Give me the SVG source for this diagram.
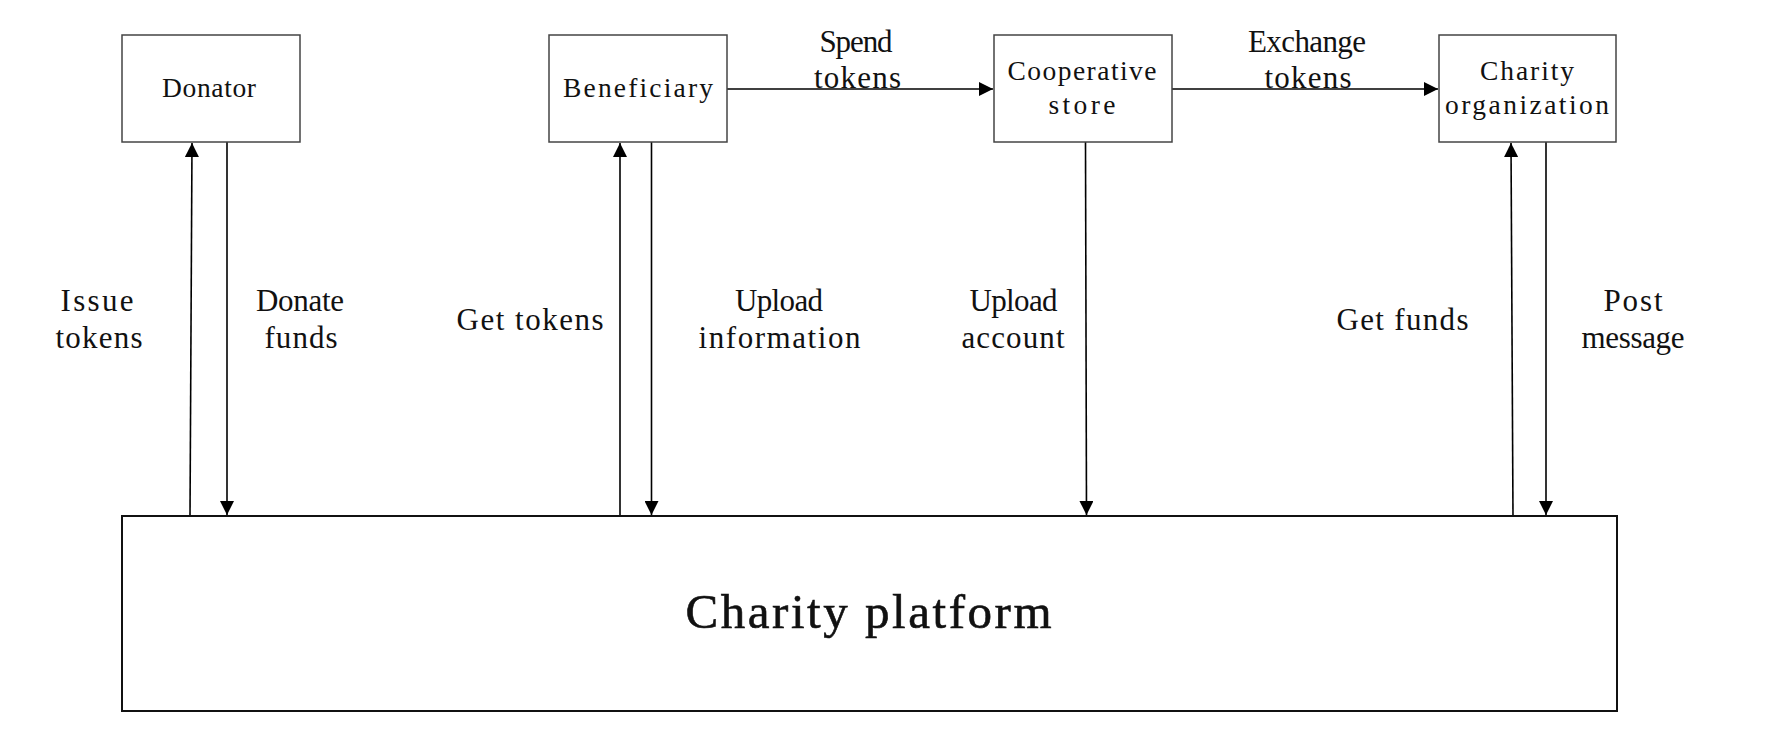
<svg xmlns="http://www.w3.org/2000/svg" width="1770" height="737" viewBox="0 0 1770 737">
<style>
text{font-family:"Liberation Serif","Times New Roman",serif;fill:#111;text-anchor:middle}
.box{fill:#fff;stroke:#444;stroke-width:1.5}
.plat{fill:#fff;stroke:#111;stroke-width:2}
.bl{font-size:27.5px}
.el{font-size:31px}
.pl{font-size:49px;stroke:#111;stroke-width:0.6}
.c{stroke:#000;stroke-width:1.6;fill:none;marker-end:url(#ah)}
</style>
<defs>
<marker id="ah" markerUnits="userSpaceOnUse" markerWidth="14" markerHeight="14" viewBox="0 0 12 12" refX="12" refY="6" orient="auto">
<path d="M0,0 L12,6 L0,12 Z" fill="#000"/>
</marker>
</defs>
<rect width="1770" height="737" fill="#fff"/>
<g id="connectors">
<path class="c" d="M190,516 L192,143"/>
<path class="c" d="M227,142 L227,515"/>
<path class="c" d="M620,516 L620,143"/>
<path class="c" d="M651.5,142 L651.5,515"/>
<path class="c" d="M1085.5,142 L1086.5,515"/>
<path class="c" d="M1513,516 L1511,143"/>
<path class="c" d="M1546,142 L1546,515"/>
<path class="c" d="M727,89 L993,89"/>
<path class="c" d="M1172,89 L1438,89"/>
</g>
<g id="labels">
<text class="el" x="97" y="311" textLength="73">Issue</text>
<text class="el" x="99" y="348" textLength="87">tokens</text>
<text class="el" x="300" y="311" textLength="88">Donate</text>
<text class="el" x="301" y="348" textLength="73">funds</text>
<text class="el" x="530" y="330" textLength="147">Get tokens</text>
<text class="el" x="779" y="311" textLength="88">Upload</text>
<text class="el" x="779.5" y="348" textLength="162">information</text>
<text class="el" x="1013.5" y="311" textLength="88">Upload</text>
<text class="el" x="1013" y="348" textLength="103">account</text>
<text class="el" x="1402.5" y="330" textLength="132">Get funds</text>
<text class="el" x="1633" y="311" textLength="59">Post</text>
<text class="el" x="1633" y="348" textLength="103">message</text>
<text class="el" x="856" y="52" textLength="73">Spend</text>
<text class="el" x="857.5" y="88" textLength="87">tokens</text>
<text class="el" x="1307" y="52" textLength="118">Exchange</text>
<text class="el" x="1308" y="88" textLength="87">tokens</text>
</g>
<g id="donator">
<rect class="box" x="122" y="35" width="178" height="107"/>
<text class="bl" x="209" y="97" textLength="94">Donator</text>
</g>
<g id="beneficiary">
<rect class="box" x="549" y="35" width="178" height="107"/>
<text class="bl" x="638" y="97" textLength="150">Beneficiary</text>
</g>
<g id="cooperative-store">
<rect class="box" x="994" y="35" width="178" height="107"/>
<text class="bl" x="1082" y="80" textLength="149">Cooperative</text>
<text class="bl" x="1082" y="114" textLength="67">store</text>
</g>
<g id="charity-organization">
<rect class="box" x="1439" y="35" width="177" height="107"/>
<text class="bl" x="1527" y="80" textLength="94">Charity</text>
<text class="bl" x="1527" y="114" textLength="164">organization</text>
</g>
<g id="charity-platform">
<rect class="plat" x="122" y="516" width="1495" height="195"/>
<text class="pl" x="868.5" y="628" textLength="366">Charity platform</text>
</g>
</svg>
